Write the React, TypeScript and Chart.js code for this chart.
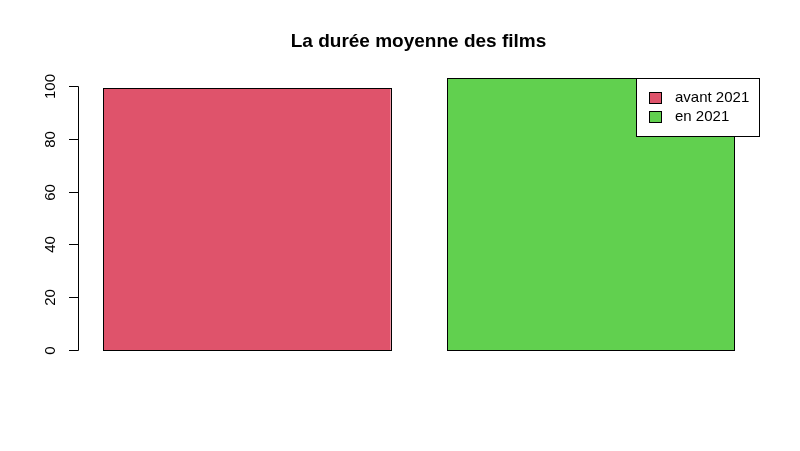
import React, { useEffect, useRef } from "react";
import { Chart, registerables } from "chart.js";

Chart.register(...registerables);

const categories = ["avant 2021", "en 2021"];
const durations = [99.1, 103.0];
const barColors = ["#DF536B", "#61D04F"];
const yTicks = [0, 20, 40, 60, 80, 100];
const titleText = "La durée moyenne des films";

const FONT = "'Liberation Sans', Arial, sans-serif";

const rPlugin = {
  id: "rStyle",
  afterDatasetsDraw(chart: any) {
    const ctx = chart.ctx as CanvasRenderingContext2D;
    const meta = chart.getDatasetMeta(0);
    ctx.save();
    ctx.strokeStyle = "#000";
    ctx.lineWidth = 1;
    meta.data.forEach((bar: any) => {
      const left = Math.round(bar.x - bar.width / 2) + 0.5;
      const right = Math.round(bar.x + bar.width / 2) + 0.5;
      const top = Math.round(bar.y) + 0.5;
      const bottom = Math.round(bar.base) + 0.5;
      ctx.strokeRect(left, top, right - left, bottom - top);
    });
    ctx.restore();
  },
  afterDraw(chart: any) {
    const ctx = chart.ctx as CanvasRenderingContext2D;
    const y = chart.scales.y;
    ctx.save();
    // title
    ctx.fillStyle = "#000";
    ctx.font = `bold 19px ${FONT}`;
    ctx.textAlign = "center";
    ctx.textBaseline = "alphabetic";
    ctx.fillText(titleText, 418.5, 47);

    // y axis
    const axisX = 78.5;
    ctx.strokeStyle = "#000";
    ctx.lineWidth = 1;
    ctx.beginPath();
    ctx.moveTo(axisX, Math.round(y.getPixelForValue(yTicks[0])) + 0.5);
    ctx.lineTo(axisX, Math.round(y.getPixelForValue(yTicks[yTicks.length - 1])) + 0.5);
    ctx.stroke();
    ctx.font = `15px ${FONT}`;
    for (const t of yTicks) {
      const py = Math.round(y.getPixelForValue(t)) + 0.5;
      ctx.beginPath();
      ctx.moveTo(axisX, py);
      ctx.lineTo(69, py);
      ctx.stroke();
      ctx.save();
      ctx.translate(50.5, py);
      ctx.rotate(-Math.PI / 2);
      ctx.textAlign = "center";
      ctx.textBaseline = "middle";
      ctx.fillText(String(t), 0, 0);
      ctx.restore();
    }

    // legend
    const lx = 636, ly = 78, lw = 123, lh = 58;
    ctx.fillStyle = "#fff";
    ctx.fillRect(lx, ly, lw, lh);
    ctx.strokeRect(lx + 0.5, ly + 0.5, lw, lh);
    categories.forEach((c, i) => {
      const cy = 98 + i * 19;
      ctx.fillStyle = barColors[i];
      ctx.fillRect(649.5, cy - 5.5, 12, 11);
      ctx.strokeRect(649.5, cy - 5.5, 12, 11);
      ctx.fillStyle = "#000";
      ctx.textAlign = "left";
      ctx.textBaseline = "middle";
      ctx.font = `15px ${FONT}`;
      ctx.fillText(c, 675, cy);
    });
    ctx.restore();
  },
};

export default function App() {
  const ref = useRef<HTMLCanvasElement>(null);
  useEffect(() => {
    document.body.style.margin = "0";
    const chart = new Chart(ref.current!, {
      type: "bar",
      data: {
        labels: categories,
        datasets: [
          {
            data: durations,
            backgroundColor: barColors,
            borderWidth: 0,
            barPercentage: 1,
            categoryPercentage: 0.8354,
          },
        ],
      },
      options: {
        animation: false,
        responsive: false,
        maintainAspectRatio: false,
        layout: { padding: { left: 75.1, right: 37.3, top: 67.5, bottom: 101 } },
        plugins: { legend: { display: false }, title: { display: false }, tooltip: { enabled: false } },
        scales: {
          x: { display: false, offset: true },
          y: { display: false, min: 0, max: 107 },
        },
      },
      plugins: [rPlugin],
    });
    return () => chart.destroy();
  }, []);
  return <canvas ref={ref} width={800} height={451} style={{ display: "block" }} />;
}
